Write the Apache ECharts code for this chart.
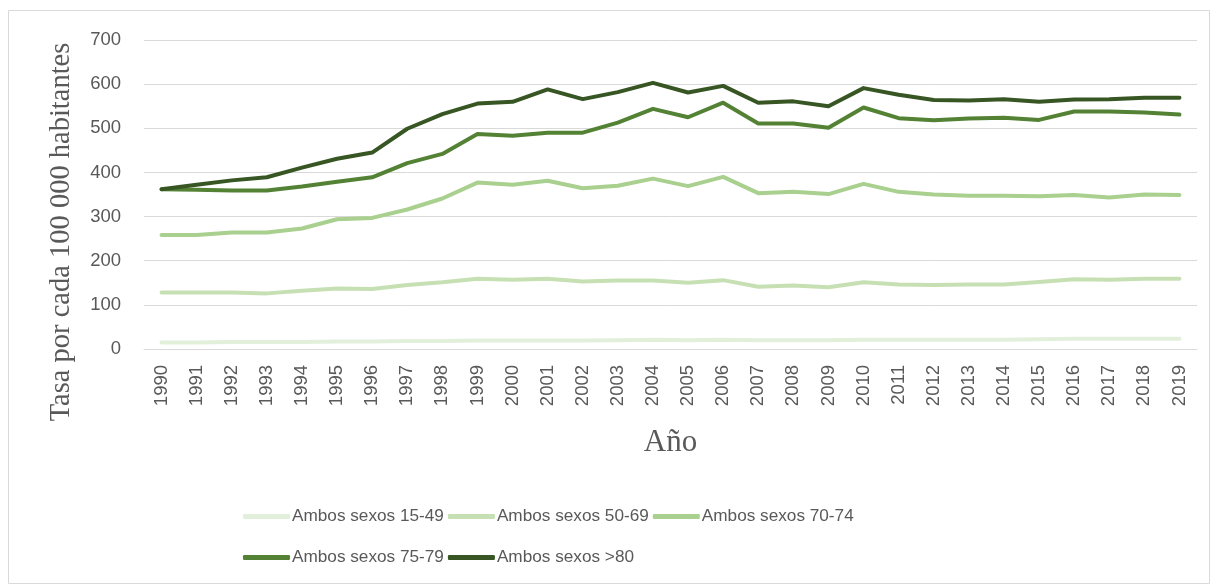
<!DOCTYPE html>
<html><head><meta charset="utf-8">
<script src="https://cdn.jsdelivr.net/npm/echarts@6/dist/echarts.min.js"></script>
<style>html,body{margin:0;padding:0;background:#fff}#c{width:1217px;height:586px}</style>
</head><body><div id="c"></div>
<script>
const years = ['1990','1991','1992','1993','1994','1995','1996','1997','1998','1999','2000','2001','2002','2003','2004','2005','2006','2007','2008','2009','2010','2011','2012','2013','2014','2015','2016','2017','2018','2019'];
const names = ['Ambos sexos 15-49','Ambos sexos 50-69','Ambos sexos 70-74','Ambos sexos 75-79','Ambos sexos >80'];
const s1549 = [15,15,16,16,16,17,17,18,18,19,19,19,19,20,21,20,21,20,20,20,21,21,21,21,21,22,23,23,23,23];
const s5069 = [128,128,128,126,132,137,136,145,151,159,157,159,153,155,155,150,156,141,144,140,151,146,145,146,146,152,158,157,159,159];
const s7074 = [258,258,264,264,273,294,297,316,341,377,372,381,364,370,386,369,390,353,356,351,374,356,350,347,347,346,349,343,350,349];
const s7579 = [362,361,359,359,368,379,389,421,442,487,483,490,490,513,544,525,558,511,511,501,547,523,518,522,524,519,538,538,536,531];
const s80 = [362,372,382,389,411,431,445,499,532,556,560,588,566,582,603,581,596,558,561,550,591,576,564,563,566,560,565,566,569,569];
const colors = ['#e2efda','#c6e0b4','#a9d08e','#548235','#375623'];
const data = [s1549,s5069,s7074,s7579,s80];

const legendBase = {itemGap:4,itemWidth:47,itemHeight:5,icon:'roundRect',
  textStyle:{fontFamily:'Liberation Sans',fontSize:17.2,color:'#595959',padding:[0,0,0,-3]}};
const chart = echarts.init(document.getElementById('c'));
chart.setOption({
  animation:false,
  color: colors,
  grid:{left:144,right:20,top:40,bottom:237},
  graphic:[
    {type:'rect',shape:{x:8.5,y:10.5,width:1201,height:573},style:{fill:'none',stroke:'#d9d9d9',lineWidth:1},silent:true},
    {type:'text',x:62,y:232,rotation:Math.PI/2,style:{text:'Tasa por cada 100 000 habitantes',font:'28.5px "Liberation Serif"',fill:'#595959',align:'center',verticalAlign:'middle'}}
  ],
  legend:[
    Object.assign({left:238,top:503,data:names.slice(0,3)},legendBase),
    Object.assign({left:238,top:544,data:names.slice(3)},legendBase)
  ],
  xAxis:{type:'category',data:years,boundaryGap:true,
    axisLine:{lineStyle:{color:'#d9d9d9',width:1}},axisTick:{show:false},
    axisLabel:{rotate:90,fontFamily:'Liberation Sans',fontSize:18.5,color:'#595959',margin:16},
    name:'Año',nameLocation:'middle',nameGap:78,
    nameTextStyle:{fontFamily:'Liberation Serif',fontSize:31,color:'#595959'}},
  yAxis:{type:'value',min:0,max:700,interval:100,
    axisLine:{show:false},axisTick:{show:false},
    axisLabel:{fontFamily:'Liberation Sans',fontSize:18.5,color:'#595959',margin:23},
    splitLine:{lineStyle:{color:'#d9d9d9',width:1}}},
  series: names.map((n,i)=>({name:n,type:'line',data:data[i],showSymbol:false,symbol:'none',
    lineStyle:{width:4,color:colors[i],cap:'round',join:'round'},itemStyle:{color:colors[i]}}))
});
</script></body></html>
